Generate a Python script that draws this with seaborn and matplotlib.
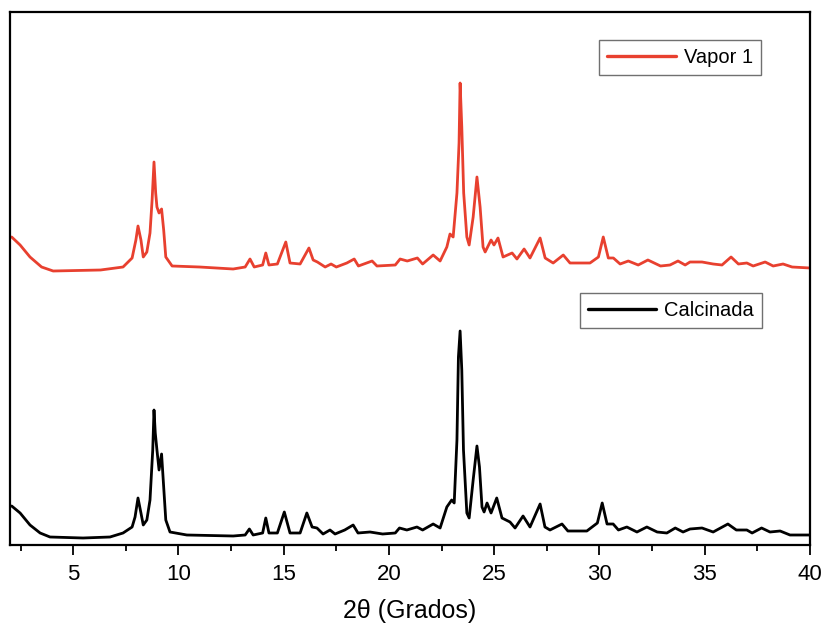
import matplotlib
matplotlib.use("Agg")
import matplotlib.pyplot as plt
import numpy as np
import pandas as pd
import seaborn as sns
from matplotlib import ticker
from matplotlib.lines import Line2D

# 2theta (deg) / intensity (a.u.)
calc_x = [2.08, 2.48, 2.95, 3.43, 3.9, 5.47, 6.75, 7.37, 7.8, 7.94, 8.08, 8.22, 8.33, 8.5,
          8.65, 8.78, 8.84, 8.9, 8.98, 9.08, 9.2, 9.3, 9.4, 9.6, 10.4, 12.6, 13.17, 13.37,
          13.55, 14.0, 14.15, 14.3, 14.7, 15.03, 15.3, 15.78, 16.1, 16.35, 16.58, 16.87,
          17.2, 17.44, 17.9, 18.3, 18.53, 19.1, 19.7, 20.3, 20.5, 20.85, 21.33, 21.6, 22.1,
          22.43, 22.75, 22.98, 23.1, 23.23, 23.3, 23.38, 23.46, 23.54, 23.7, 23.81, 24.0,
          24.18, 24.3, 24.42, 24.52, 24.66, 24.85, 25.12, 25.37, 25.75, 25.99, 26.37, 26.7,
          27.18, 27.41, 27.65, 28.22, 28.5, 29.4, 29.9, 30.13, 30.36, 30.65, 30.9, 31.3,
          31.78, 32.25, 32.74, 33.2, 33.6, 33.97, 34.3, 34.87, 35.4, 36.1, 36.5, 37.0,
          37.25, 37.7, 38.1, 38.58, 39.05, 40.0]
calc_y = [39, 32, 20, 12, 8, 7, 8, 12, 18, 28, 47, 32, 20, 25,
          45, 95, 135, 112, 95, 75, 91, 58, 25, 13, 10, 9, 10, 16,
          10, 12, 27, 12, 12, 33, 12, 12, 32, 18, 17, 11,
          15, 11, 15, 20, 12, 13, 11, 12, 17, 15, 18, 15, 21,
          17, 38, 45, 42, 105, 188, 214, 175, 95, 32, 27, 65,
          99, 78, 38, 33, 42, 32, 47, 27, 23, 17, 29, 18,
          41, 18, 15, 21, 14, 14, 22, 42, 21, 21, 15, 18,
          13, 18, 13, 12, 17, 13, 16, 17, 13, 21, 15, 15,
          12, 17, 13, 14, 10, 10]

vap_x = [2.08, 2.48, 2.95, 3.5, 4.05, 6.3, 7.37, 7.8, 7.98, 8.08, 8.22, 8.33, 8.5, 8.65,
         8.75, 8.84, 8.92, 8.98, 9.08, 9.2, 9.3, 9.4, 9.7, 11.0, 12.6, 13.17, 13.4, 13.6,
         14.0, 14.15, 14.3, 14.7, 15.1, 15.3, 15.78, 16.2, 16.4, 16.6, 16.97, 17.25, 17.5,
         18.0, 18.35, 18.55, 19.2, 19.43, 20.3, 20.53, 20.87, 21.35, 21.6, 22.1, 22.43,
         22.75, 22.9, 23.05, 23.23, 23.33, 23.38, 23.46, 23.55, 23.7, 23.81, 24.0, 24.18,
         24.33, 24.47, 24.57, 24.85, 24.99, 25.18, 25.42, 25.85, 26.08, 26.42, 26.7, 27.18,
         27.42, 27.8, 28.28, 28.6, 29.55, 29.95, 30.18, 30.42, 30.66, 30.98, 31.37, 31.84,
         32.3, 32.9, 33.35, 33.73, 34.07, 34.3, 34.87, 35.4, 35.82, 36.25, 36.6, 37.0,
         37.3, 37.87, 38.25, 38.72, 39.15, 40.0]
vap_y = [43, 35, 23, 13, 9, 10, 13, 22, 40, 54, 40, 23, 28, 47,
         80, 118, 87, 73, 67, 71, 50, 23, 14, 13, 11, 13, 21, 13,
         15, 27, 15, 16, 38, 17, 16, 32, 20, 18, 13, 16, 13,
         17, 21, 14, 19, 14, 15, 21, 19, 22, 16, 25, 19,
         33, 46, 43, 87, 137, 197, 153, 87, 43, 35, 63, 103,
         73, 33, 28, 40, 35, 42, 23, 27, 21, 31, 22, 42,
         22, 17, 25, 17, 17, 23, 43, 22, 22, 16, 19, 15,
         20, 14, 15, 19, 15, 18, 18, 16, 15, 23, 16, 17,
         14, 18, 14, 16, 13, 12]

labels = ["Vapor 1", "Calcinada"]
colors = ["#E8402F", "black"]
offset = 265  # vertical shift of the upper pattern

sns.set_theme(style="white")
plt.rcParams["font.family"] = ["Liberation Sans", "DejaVu Sans"]
plt.rcParams["text.color"] = "black"
plt.rcParams["xtick.color"] = "black"
plt.rcParams["axes.labelcolor"] = "black"

fig = plt.figure(figsize=(8.28, 6.3), dpi=100)
ax = fig.add_axes([10 / 828, 1 - 545 / 630, 800 / 828, 533 / 630])

df_c = pd.DataFrame({"x": calc_x, "y": calc_y})
df_v = pd.DataFrame({"x": vap_x, "y": np.array(vap_y) + offset})

sns.lineplot(data=df_v, x="x", y="y", ax=ax, color=colors[0], lw=2.0, sort=False)
sns.lineplot(data=df_c, x="x", y="y", ax=ax, color=colors[1], lw=2.0, sort=False)

ax.set_xlim(2, 40)
ax.set_ylim(0, 533)
ax.set_yticks([])
ax.set_ylabel("")
ax.xaxis.set_major_locator(ticker.MultipleLocator(5))
ax.xaxis.set_minor_locator(ticker.MultipleLocator(2.5))
ax.tick_params(axis="x", which="major", direction="out", length=7.5, width=1.3,
               color="black", labelcolor="black", labelsize=16, pad=6, bottom=True)
ax.tick_params(axis="x", which="minor", direction="out", length=4.5, width=1.3,
               color="black", bottom=True)
ax.set_xlabel("2\u03b8 (Grados)", fontsize=18, labelpad=10, color="black")

for s in ax.spines.values():
    s.set_color("black")
    s.set_linewidth(1.6)

leg_kw = dict(fontsize=14.5, frameon=True, fancybox=False, edgecolor="#707070",
              handlelength=3.4, handletextpad=0.4, borderpad=0.4, framealpha=1,
              borderaxespad=0)
h1 = [Line2D([], [], color=colors[0], lw=2.4)]
h2 = [Line2D([], [], color=colors[1], lw=2.4)]
leg1 = ax.legend(h1, [labels[0]], loc="upper right", bbox_to_anchor=(0.939, 0.947), **leg_kw)
ax.add_artist(leg1)
ax.legend(h2, [labels[1]], loc="upper right", bbox_to_anchor=(0.94, 0.473), **leg_kw)

plt.savefig("out.png", dpi=100)
plt.close()
print("save png file: out.png")
